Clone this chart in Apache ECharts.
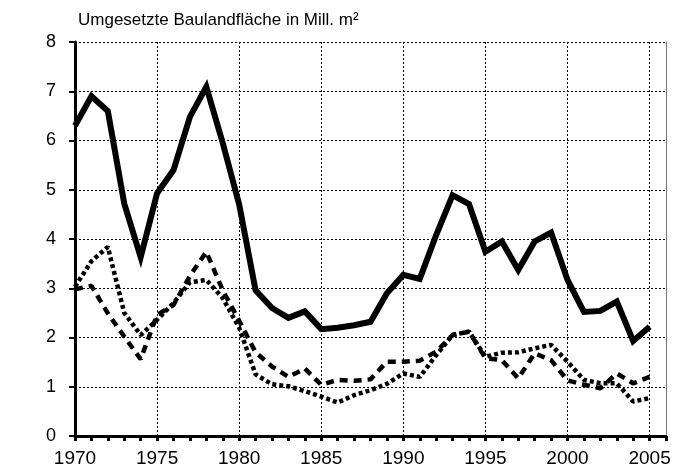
<!DOCTYPE html>
<html>
<head>
<meta charset="utf-8">
<script src="https://cdn.jsdelivr.net/npm/echarts@6/dist/echarts.min.js"></script>
<style>html,body{margin:0;padding:0;background:#fff}#c{width:674px;height:475px}</style>
</head>
<body>
<div id="c"></div>
<script>
const years = [];
for (let y = 1970; y <= 2006; y++) years.push(String(y));
const yTicks = [0, 1, 2, 3, 4, 5, 6, 7, 8];
const titleText = 'Umgesetzte Baulandfläche in Mill. m²';

const solidSeries = [6.3, 6.9, 6.6, 4.72, 3.63, 4.93, 5.4, 6.48, 7.09, 5.95, 4.7,
  2.96, 2.6, 2.4, 2.53, 2.17, 2.2, 2.25, 2.32, 2.9, 3.27, 3.19, 4.08, 4.89, 4.71,
  3.74, 3.95, 3.37, 3.95, 4.13, 3.17, 2.52, 2.54, 2.73, 1.93, 2.22];
const dashedSeries = [2.98, 3.05, 2.49, 2.02, 1.56, 2.46, 2.66, 3.25, 3.74, 2.96, 2.34,
  1.7, 1.41, 1.2, 1.37, 1.04, 1.14, 1.12, 1.15, 1.51, 1.51, 1.53, 1.71, 2.05, 2.12,
  1.58, 1.54, 1.17, 1.68, 1.54, 1.13, 1.04, 0.97, 1.27, 1.07, 1.2];
const dottedSeries = [3.03, 3.55, 3.84, 2.5, 2.05, 2.36, 2.7, 3.12, 3.17, 2.8, 2.2,
  1.25, 1.05, 1.01, 0.91, 0.8, 0.68, 0.83, 0.93, 1.06, 1.27, 1.2, 1.64, 2.05, 2.12,
  1.61, 1.69, 1.7, 1.78, 1.85, 1.51, 1.14, 1.07, 1.07, 0.7, 0.77];

const chart = echarts.init(document.getElementById('c'), null, {renderer: 'canvas'});
const font = 'Liberation Sans, Arial, sans-serif';
chart.setOption({
  animation: false,
  backgroundColor: '#ffffff',
  title: {
    text: titleText, left: 73, top: 7,
    textStyle: {fontFamily: font, fontSize: 17, fontWeight: 'normal', color: '#000'}
  },
  grid: {left: 75, right: 8, top: 42, bottom: 39, containLabel: false},
  xAxis: {
    type: 'category', data: years, boundaryGap: false,
    axisLine: {show: true, onZero: false, lineStyle: {color: '#000', width: 3}},
    axisTick: {show: true, interval: 0, length: 5, lineStyle: {color: '#000', width: 3}},
    axisLabel: {
      interval: (i, v) => (+v) % 5 === 0 && +v <= 2005,
      margin: 13, color: '#000', fontFamily: font, fontSize: 19
    },
    splitLine: {
      show: true, interval: (i, v) => (+v) % 5 === 0 && +v > 1970 && +v <= 2005,
      lineStyle: {color: '#000', width: 1, type: [2, 2]}
    }
  },
  yAxis: [{
    type: 'value', min: yTicks[0], max: yTicks[yTicks.length - 1], interval: 1,
    axisLine: {show: true, lineStyle: {color: '#000', width: 3}},
    axisTick: {show: true, length: 6, lineStyle: {color: '#000', width: 2}},
    axisLabel: {margin: 19, color: '#000', fontFamily: font, fontSize: 18},
    splitLine: {show: true, lineStyle: {color: '#000', width: 1, type: [2, 2]}}
  }, {
    type: 'value', min: 0, max: 8, position: 'right',
    axisLine: {show: true, lineStyle: {color: '#777', width: 1}},
    axisTick: {show: false}, axisLabel: {show: false}, splitLine: {show: false}
  }],
  series: [{
    name: 'a', type: 'line', data: solidSeries, symbol: 'none',
    lineStyle: {color: '#000', width: 6, join: 'miter'}, z: 5
  }, {
    name: 'b', type: 'line', data: dashedSeries, symbol: 'none',
    lineStyle: {color: '#000', width: 4.5, type: [8, 6], cap: 'butt'}, z: 4
  }, {
    name: 'c', type: 'line', data: dottedSeries, symbol: 'none',
    lineStyle: {color: '#000', width: 4.5, type: [4, 3], cap: 'butt'}, z: 3
  }]
});
</script>
</body>
</html>
